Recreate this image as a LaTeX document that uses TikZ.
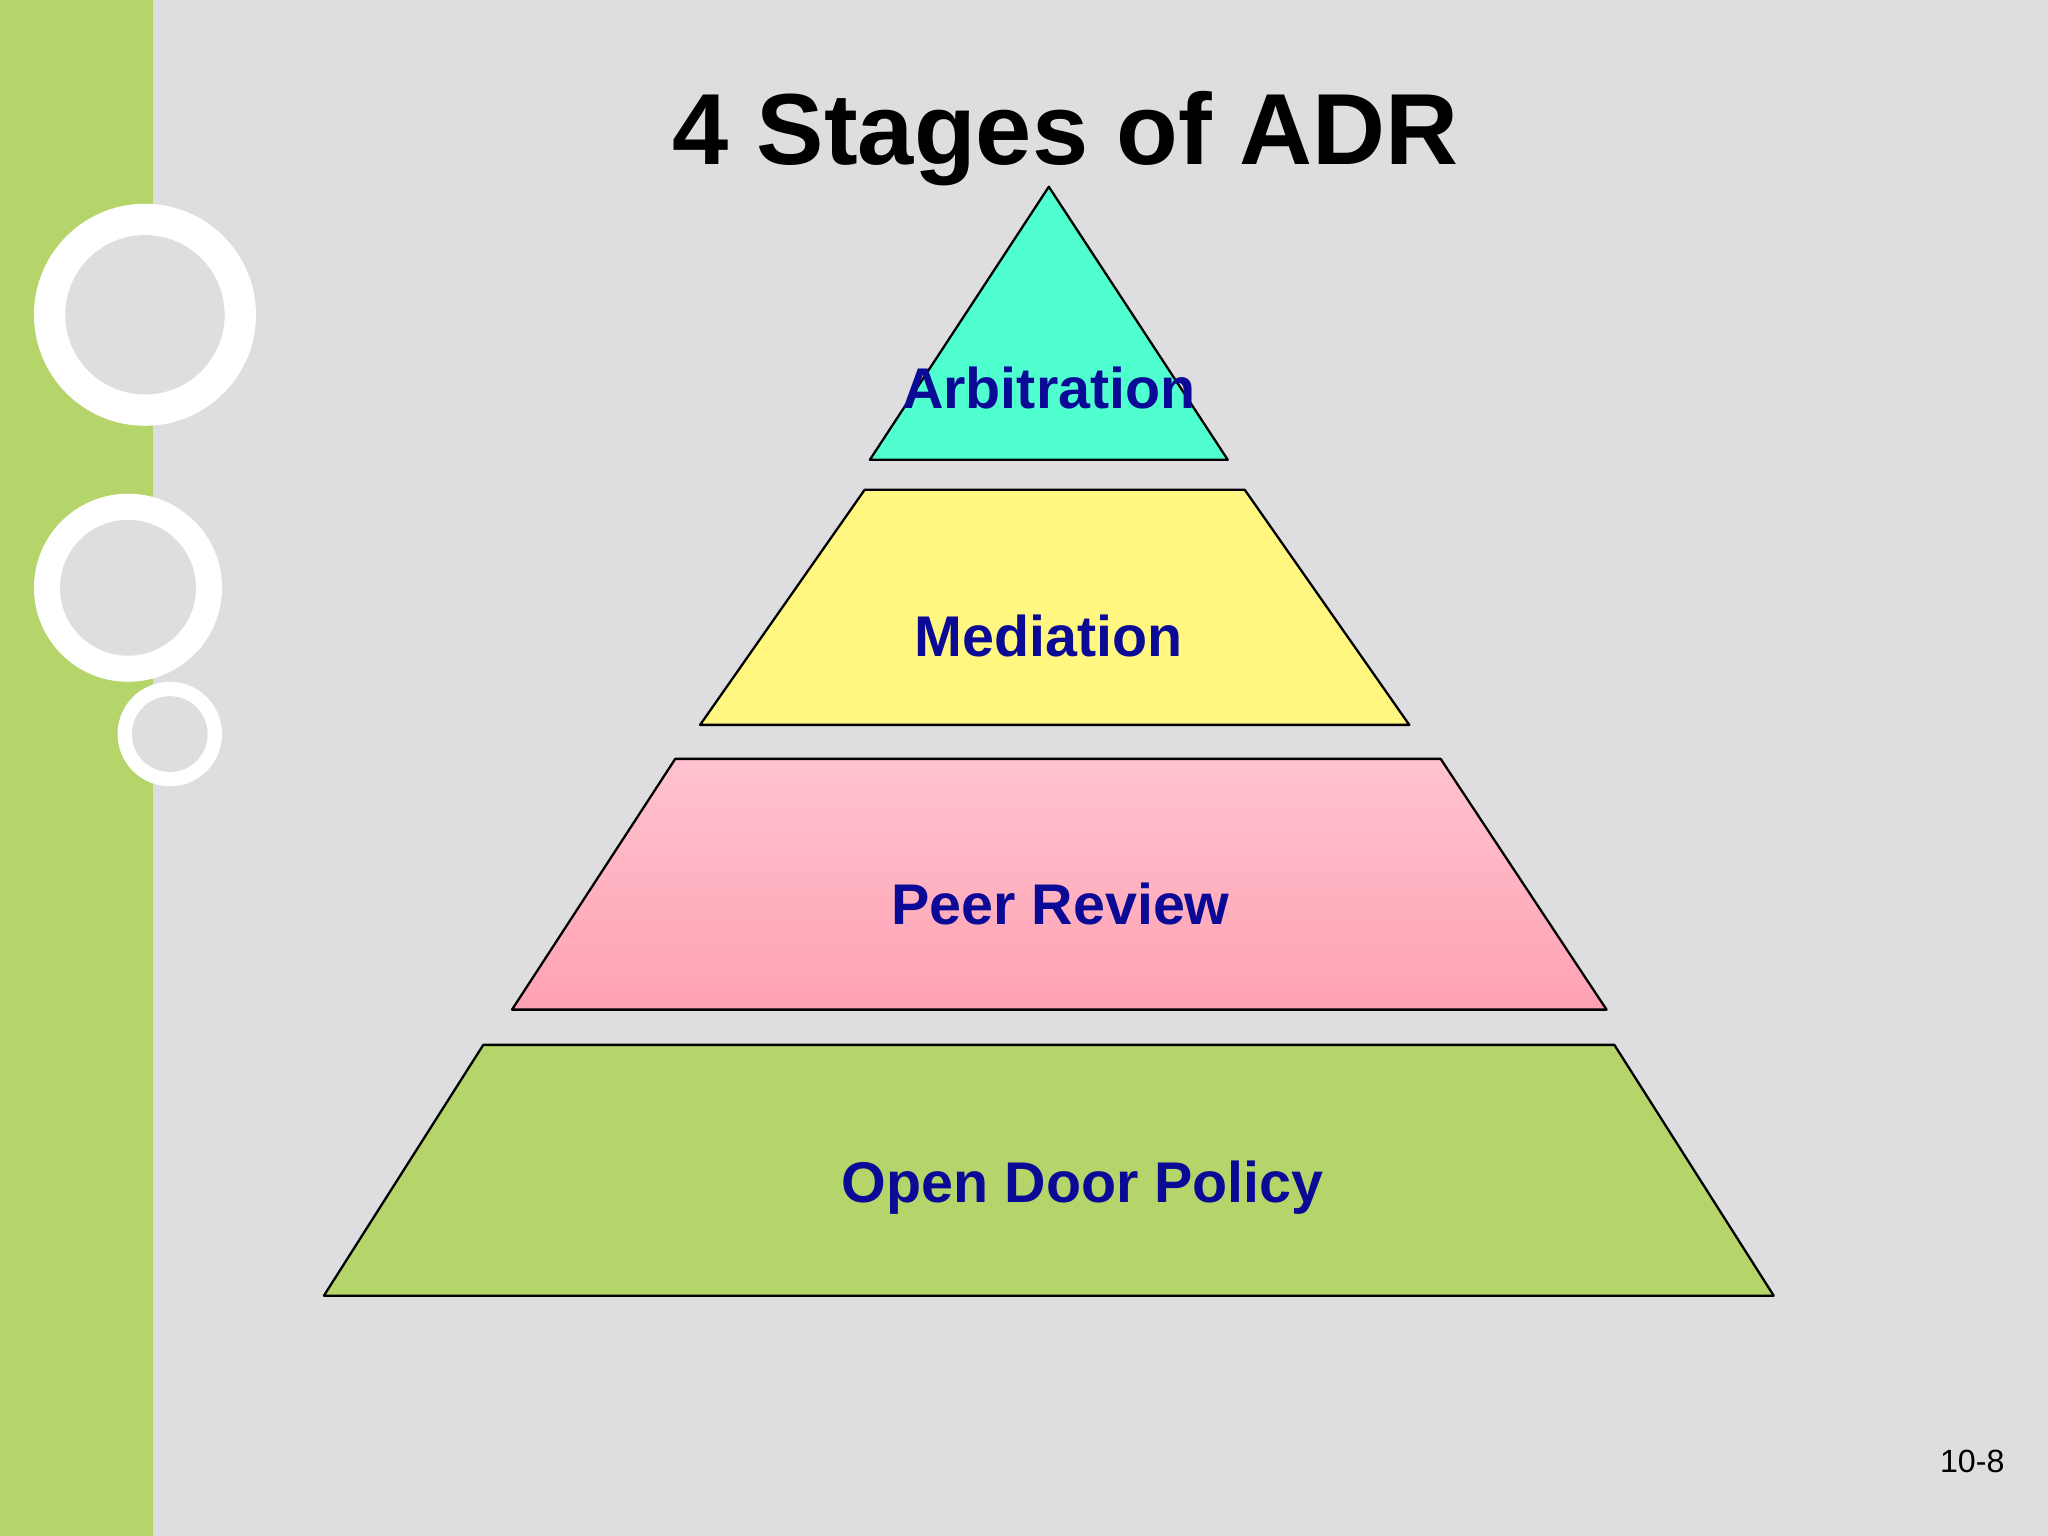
\documentclass[tikz,border=0pt]{standalone}
\usepackage{fontspec}
\setmainfont{Liberation Sans}
\begin{document}
\begin{tikzpicture}[x=0.01cm,y=-0.01cm,
  lbl/.style={font=\bfseries\fontsize{12.5}{14}\selectfont,text=lblblue},
  tier/.style={draw=black,line width=0.5pt,line join=round}]
\definecolor{bg}{HTML}{DEDDDF}
\definecolor{bar}{HTML}{B5D56A}
\definecolor{lblblue}{HTML}{0A0A96}
\definecolor{cy}{HTML}{4FFFCF}
\definecolor{ye}{HTML}{FFF780}
\definecolor{pkt}{HTML}{FFC2CF}
\definecolor{pkb}{HTML}{FFA2B3}
\useasboundingbox (0,0) rectangle (1568,1176);
\fill[bg] (0,0) rectangle (1568,1176);
\fill[bar] (0,0) rectangle (117,1176);
\foreach \cx/\cy/\ro/\ri in {111/241/85/61, 98/450/72/52, 130/562/40/29}{
  \fill[white] (\cx,\cy) circle (\ro);
  \fill[bg] (\cx,\cy) circle (\ri);
}
\node[font=\bfseries\fontsize{22}{26}\selectfont] (title) at (816,106) {4 Stages of ADR};
\draw[tier,fill=cy] (803,143) -- (940,352) -- (666,352) -- cycle;
\draw[tier,fill=ye] (662,375) -- (953,375) -- (1079,555) -- (536,555) -- cycle;
\draw[tier,top color=pkt,bottom color=pkb] (517,581) -- (1103,581) -- (1230,773) -- (392,773) -- cycle;
\draw[tier,fill=bar] (370,800) -- (1236,800) -- (1358,992) -- (248,992) -- cycle;
\node[lbl] (arb) at (803,297) {Arbitration};
\node[lbl] (med) at (803,487) {Mediation};
\node[lbl] (peer) at (812,692) {Peer Review};
\node[lbl] (open) at (829,909) {Open Door Policy};
\node[font=\fontsize{7}{8}\selectfont] (num) at (1510,1119) {10-8};
\end{tikzpicture}
\end{document}
